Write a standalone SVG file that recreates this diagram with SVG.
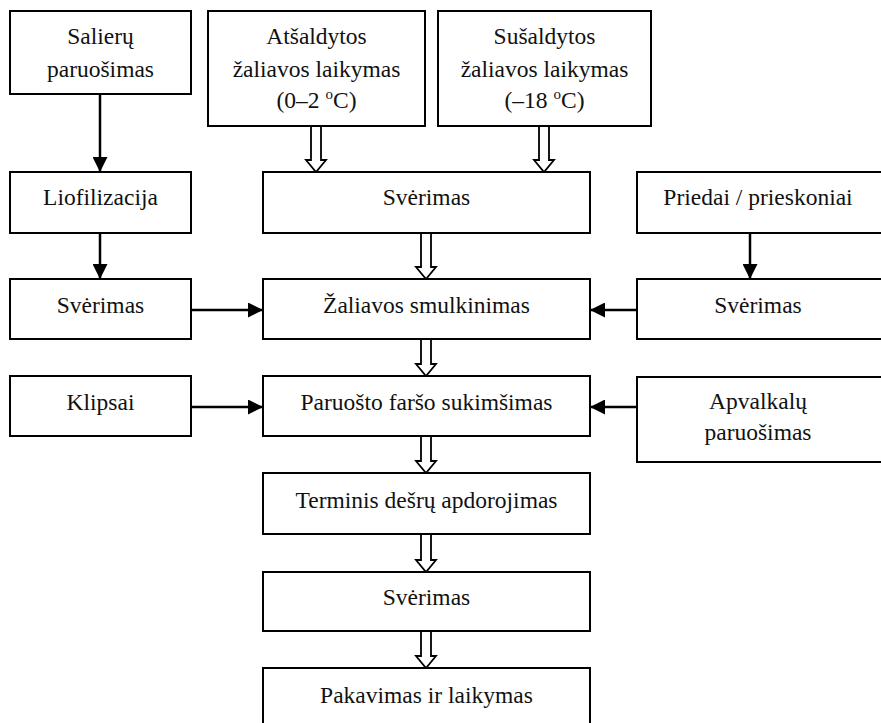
<svg xmlns="http://www.w3.org/2000/svg" width="881" height="723" viewBox="0 0 881 723" font-family="Liberation Serif, Times New Roman, DejaVu Serif, serif">
  <style>
    .box { fill: #fff; stroke: #000; stroke-width: 2; }
    text { font-size: 23.5px; fill: #111; text-anchor: middle; }
    .line { stroke: #000; stroke-width: 2.5; fill: none; }
    .hollow { fill: #fff; stroke: #000; stroke-width: 1.8; stroke-linejoin: miter; }
  </style>
  <defs>
    <marker id="solid" viewBox="0 0 10 10" refX="10" refY="5" markerUnits="userSpaceOnUse" markerWidth="16" markerHeight="15" orient="auto">
      <path d="M0,0 L10,5 L0,10 Z" fill="#000"/>
    </marker>
  </defs>
  <rect width="881" height="723" fill="#fff"/>

  <g id="connectors">
    <!-- solid side feeds -->
    <line class="line" x1="100" y1="94" x2="100" y2="172" marker-end="url(#solid)"/>
    <line class="line" x1="100" y1="233" x2="100" y2="279" marker-end="url(#solid)"/>
    <line class="line" x1="191" y1="310" x2="263" y2="310" marker-end="url(#solid)"/>
    <line class="line" x1="750" y1="233" x2="750" y2="279" marker-end="url(#solid)"/>
    <line class="line" x1="637" y1="310" x2="590" y2="310" marker-end="url(#solid)"/>
    <line class="line" x1="191" y1="407" x2="263" y2="407" marker-end="url(#solid)"/>
    <line class="line" x1="637" y1="407" x2="590" y2="407" marker-end="url(#solid)"/>
    <!-- hollow main-line arrows -->
    <path class="hollow" d="M311,126 V160 H306 L316,172 L326,160 H321 V126"/>
    <path class="hollow" d="M539,126 V160 H534 L544,172 L554,160 H549 V126"/>
    <path class="hollow" d="M421,233 V267 H416 L426,279 L436,267 H431 V233"/>
    <path class="hollow" d="M421,339 V364 H416 L426,376 L436,364 H431 V339"/>
    <path class="hollow" d="M421,436 V461 H416 L426,473 L436,461 H431 V436"/>
    <path class="hollow" d="M421,534 V560 H416 L426,572 L436,560 H431 V534"/>
    <path class="hollow" d="M421,631 V656 H416 L426,668 L436,656 H431 V631"/>
  </g>

  <g id="salieru-paruosimas">
    <rect class="box" x="10" y="11" width="181" height="83"/>
    <text x="100.5" y="44">Salierų</text>
    <text x="100.5" y="77">paruošimas</text>
  </g>
  <g id="atsaldytos-laikymas">
    <rect class="box" x="208" y="11" width="217" height="115"/>
    <text x="316.5" y="44">Atšaldytos</text>
    <text x="316.5" y="77">žaliavos laikymas</text>
    <text x="316.5" y="108">(0–2 <tspan font-size="15" dy="-9">o</tspan><tspan dy="9">C)</tspan></text>
  </g>
  <g id="susaldytos-laikymas">
    <rect class="box" x="438" y="11" width="213" height="115"/>
    <text x="544.5" y="44">Sušaldytos</text>
    <text x="544.5" y="77">žaliavos laikymas</text>
    <text x="544.5" y="108">(–18 <tspan font-size="15" dy="-9">o</tspan><tspan dy="9">C)</tspan></text>
  </g>
  <g id="liofilizacija">
    <rect class="box" x="10" y="172" width="181" height="61"/>
    <text x="100.5" y="205">Liofilizacija</text>
  </g>
  <g id="sverimas-1">
    <rect class="box" x="263" y="172" width="327" height="61"/>
    <text x="426.5" y="205">Svėrimas</text>
  </g>
  <g id="priedai">
    <rect class="box" x="637" y="172" width="250" height="61"/>
    <text x="758" y="205">Priedai / prieskoniai</text>
  </g>
  <g id="sverimas-salieru">
    <rect class="box" x="10" y="279" width="181" height="60"/>
    <text x="100.5" y="313">Svėrimas</text>
  </g>
  <g id="zaliavos-smulkinimas">
    <rect class="box" x="263" y="279" width="327" height="60"/>
    <text x="426.5" y="313">Žaliavos smulkinimas</text>
  </g>
  <g id="sverimas-priedu">
    <rect class="box" x="637" y="279" width="250" height="60"/>
    <text x="758" y="313">Svėrimas</text>
  </g>
  <g id="klipsai">
    <rect class="box" x="10" y="376" width="181" height="60"/>
    <text x="100.5" y="410">Klipsai</text>
  </g>
  <g id="farso-sukimsimas">
    <rect class="box" x="263" y="376" width="327" height="60"/>
    <text x="426.5" y="410">Paruošto faršo sukimšimas</text>
  </g>
  <g id="apvalkalu-paruosimas">
    <rect class="box" x="637" y="377" width="250" height="85"/>
    <text x="758" y="409">Apvalkalų</text>
    <text x="758" y="440">paruošimas</text>
  </g>
  <g id="terminis-apdorojimas">
    <rect class="box" x="263" y="473" width="327" height="61"/>
    <text x="426.5" y="508">Terminis dešrų apdorojimas</text>
  </g>
  <g id="sverimas-2">
    <rect class="box" x="263" y="572" width="327" height="59"/>
    <text x="426.5" y="605">Svėrimas</text>
  </g>
  <g id="pakavimas">
    <rect class="box" x="263" y="668" width="327" height="60"/>
    <text x="426.5" y="703">Pakavimas ir laikymas</text>
  </g>
</svg>
